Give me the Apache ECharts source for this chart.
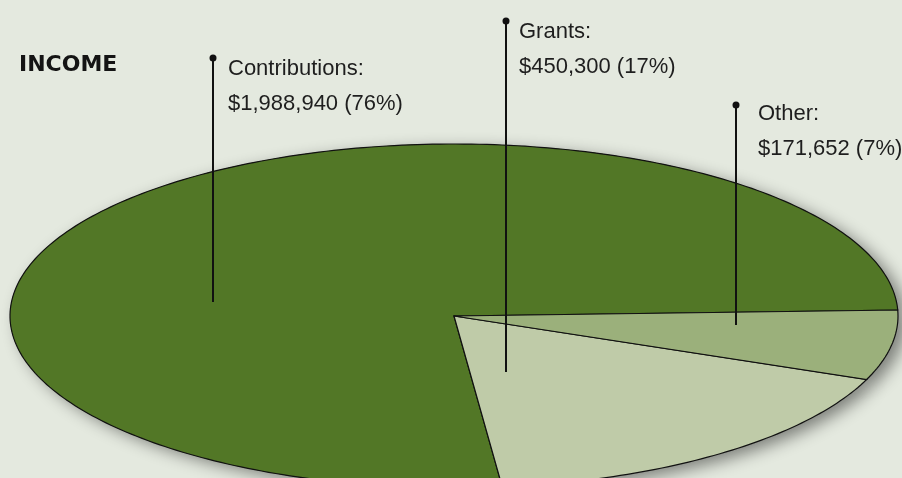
<!DOCTYPE html>
<html>
<head>
<meta charset="utf-8">
<script src="https://cdn.jsdelivr.net/npm/echarts@6/dist/echarts.min.js"></script>
<style>
  html, body { margin: 0; padding: 0; background: #e4e9df; }
  #main { width: 902px; height: 478px; }
</style>
</head>
<body>
<div id="main"></div>
<script>
// income data
var categories = ['Contributions', 'Grants', 'Other'];
var amounts = [1988940, 450300, 171652];
var percents = [76, 17, 7];
var colors = ['#527726', '#bfcba8', '#9bb07b'];

// layout of the squashed pie and its callouts
var cx = 454, cy = 316, rx = 444, ry = 172;
var startDeg = 358.0;   // canvas angle where the first slice starts, sweeping anticlockwise
var callouts = [
    {x: 213, top: 58, bottom: 302, tx: 228, ty: 55},
    {x: 506, top: 21, bottom: 372, tx: 519, ty: 18},
    {x: 736, top: 105, bottom: 325, tx: 758, ty: 100}
];

var total = amounts.reduce(function (a, b) { return a + b; }, 0);

function money(v) {
    return '$' + v.toLocaleString('en-US');
}

function slicePoints(a0, a1) {
    var pts = [[cx, cy]];
    var steps = Math.max(2, Math.ceil(Math.abs(a1 - a0)));
    for (var i = 0; i <= steps; i++) {
        var a = (a0 + (a1 - a0) * i / steps) * Math.PI / 180;
        pts.push([cx + rx * Math.cos(a), cy + ry * Math.sin(a)]);
    }
    return pts;
}

var chart = echarts.init(document.getElementById('main'));

var graphics = [{
    type: 'text',
    left: 19,
    top: 54,
    style: {
        text: 'INCOME',
        font: 'bold 22px "DejaVu Sans"',
        fill: '#141414'
    }
}];

callouts.forEach(function (c, i) {
    graphics.push({
        type: 'line',
        shape: {x1: c.x, y1: c.top, x2: c.x, y2: c.bottom},
        style: {stroke: '#111', lineWidth: 2},
        z: 10
    });
    graphics.push({
        type: 'circle',
        shape: {cx: c.x, cy: c.top, r: 3.5},
        style: {fill: '#111'},
        z: 10
    });
    graphics.push({
        type: 'text',
        x: c.tx,
        y: c.ty - 4,
        style: {
            text: categories[i] + ':\n' + money(amounts[i]) + ' (' + percents[i] + '%)',
            font: '22px "Liberation Sans"',
            lineHeight: 35,
            fill: '#1e1e1e'
        },
        z: 10
    });
});

chart.setOption({
    backgroundColor: '#e4e9df',
    animation: false,
    graphic: graphics,
    series: [{
        type: 'custom',
        coordinateSystem: 'none',
        data: amounts,
        renderItem: function (params, api) {
            var idx = params.dataIndex;
            var before = 0;
            for (var k = 0; k < idx; k++) before += amounts[k];
            var a0 = startDeg - before / total * 360;
            var a1 = a0 - amounts[idx] / total * 360;
            var pts = slicePoints(a0, a1);
            return {
                type: 'group',
                children: [{
                    type: 'polygon',
                    z2: 0,
                    shape: {points: pts},
                    style: {
                        fill: colors[idx],
                        shadowBlur: 16,
                        shadowOffsetX: 8,
                        shadowOffsetY: 5,
                        shadowColor: 'rgba(0,0,0,0.45)'
                    }
                }, {
                    type: 'polygon',
                    z2: 1,
                    shape: {points: pts},
                    style: {
                        fill: colors[idx],
                        stroke: '#111',
                        lineWidth: 1.2
                    }
                }]
            };
        }
    }]
});
</script>
</body>
</html>
